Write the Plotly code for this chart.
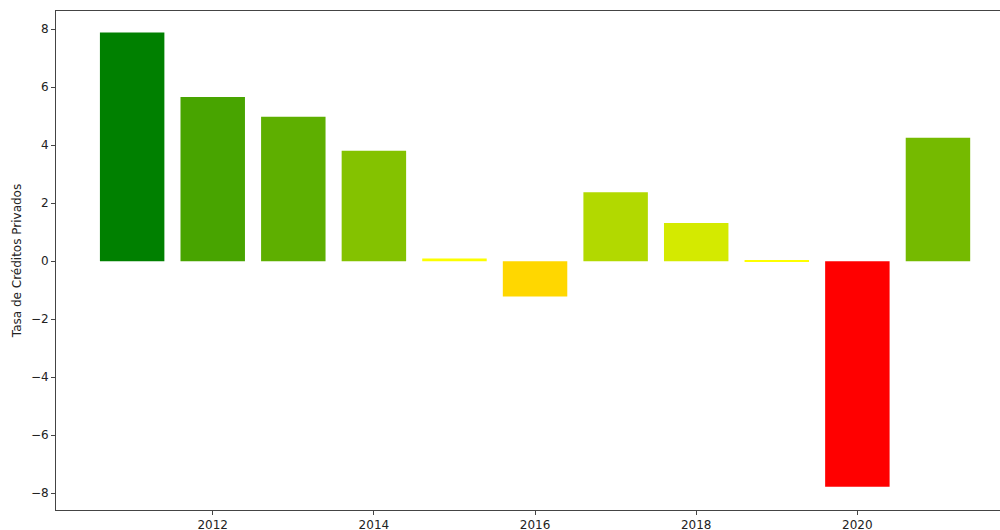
import plotly.graph_objects as go

years = [2011, 2012, 2013, 2014, 2015, 2016, 2017, 2018, 2019, 2020, 2021]
tasa = [7.89, 5.66, 4.98, 3.81, 0.09, -1.22, 2.38, 1.32, 0.03, -7.78, 4.26]
bar_colors = ["#008000", "#48A400", "#5EAF00", "#84C200", "#FCFE00", "#FFD700",
              "#B2D900", "#D4EA00", "#FEFF00", "#FF0000", "#75BA00"]
x_ticks = [2012, 2014, 2016, 2018, 2020]
y_ticks = [-8, -6, -4, -2, 0, 2, 4, 6, 8]

fig = go.Figure(go.Bar(x=years, y=tasa, width=0.8, marker_color=bar_colors,
                       marker_line_width=0))

font = dict(family="DejaVu Sans", size=12, color="#222")
fig.update_layout(
    width=1000, height=530,
    margin=dict(l=56, r=0, t=11, b=20, autoexpand=False),
    paper_bgcolor="white", plot_bgcolor="white",
    font=font, showlegend=False,
    xaxis=dict(range=[2010.055, 2021.77], tickvals=x_ticks, ticktext=[str(v) for v in x_ticks],
               showgrid=False, zeroline=False, showline=True, linecolor="#444", linewidth=1,
               mirror=True, ticks="outside", ticklen=4, tickcolor="#444", tickfont=font),
    yaxis=dict(range=[-8.58, 8.63], tickvals=y_ticks, showgrid=False, zeroline=False,
               showline=True, linecolor="#444", linewidth=1, ticks="outside", ticklen=4,
               tickcolor="#444", tickfont=font,
               title=dict(text="Tasa de Créditos Privados", font=font, standoff=6)),
)
fig.write_html("out.html", config={"displayModeBar": False},
               post_script="document.body.style.margin='0';document.body.style.overflow='hidden';")
